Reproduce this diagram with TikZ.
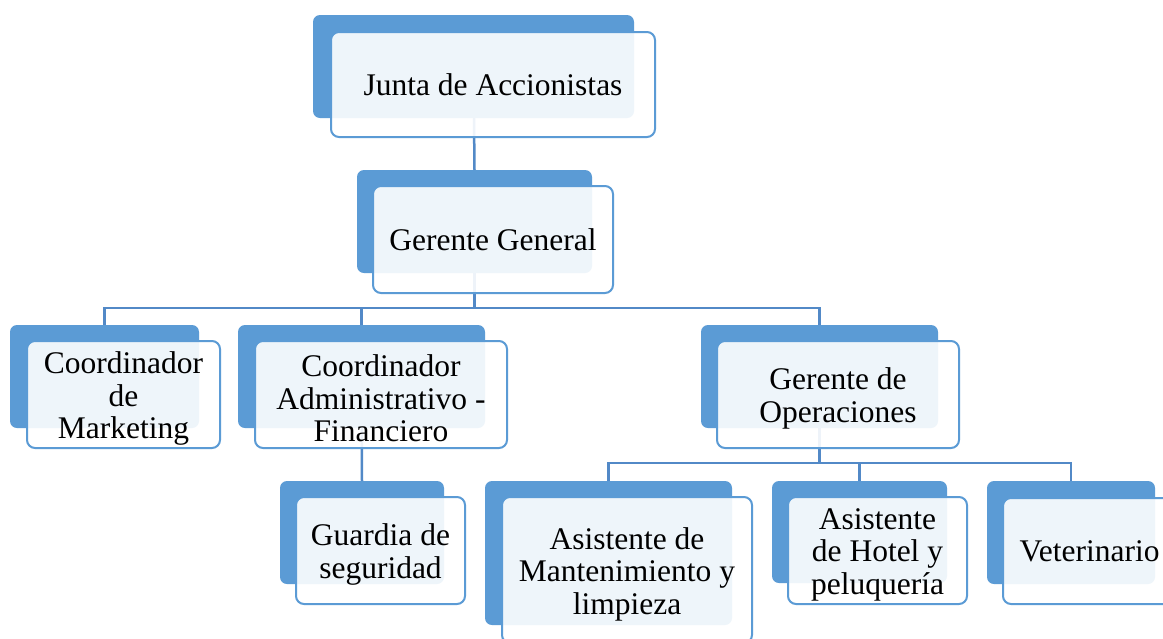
\documentclass[tikz,border=0pt]{standalone}
\usepackage{fontspec}
\setmainfont{Liberation Serif}
\definecolor{boxblue}{HTML}{5B9BD5}
\definecolor{connblue}{HTML}{5289C7}
\pgfdeclarelayer{paper}
\pgfdeclarelayer{bg}
\pgfsetlayers{paper,bg,main}
\begin{document}
\begin{tikzpicture}[x=1pt,y=-1pt,
  backbox/.style={rectangle, rounded corners=7pt, fill=boxblue, inner sep=0pt, outer sep=0pt},
  frontbox/.style={rectangle, rounded corners=8pt, draw=boxblue, line width=2pt, fill=white, fill opacity=0.9, text opacity=1, inner sep=0pt, outer sep=0pt, align=center, font=\fontsize{31.5}{32.5}\selectfont},
  txt/.style={inner sep=0pt, align=center, font=\fontsize{31.5}{32.5}\selectfont, yshift=-4pt},
  conn/.style={draw=connblue, line width=2.5pt}]
\clip (0,0) rectangle (1163,638);
\begin{pgfonlayer}{paper}
\fill[white] (0,0) rectangle (1163,638);
\end{pgfonlayer}
% Junta de Accionistas
\node[backbox, minimum width=321pt, minimum height=103pt] (junta-b) at (473.5,66.5) {};
\node[frontbox, minimum width=324pt, minimum height=105pt] (junta) at (493,84.5) {Junta de Accionistas};
% Gerente General
\node[backbox, minimum width=235pt, minimum height=103pt] (gg-b) at (474.5,221.5) {};
\node[frontbox, minimum width=240pt, minimum height=107pt] (gg) at (493,239.5) {Gerente General};
% Coordinador de Marketing
\node[backbox, minimum width=189pt, minimum height=103pt] (mkt-b) at (104.5,376.5) {};
\node[frontbox, minimum width=193pt, minimum height=107pt] (mkt) at (123.5,394.5) {};
\node[txt] (mkt-t) at (mkt.center) {Coordinador\\de\\Marketing};
% Coordinador Administrativo - Financiero
\node[backbox, minimum width=247pt, minimum height=103pt] (adm-b) at (361.5,376.5) {};
\node[frontbox, minimum width=252pt, minimum height=107pt] (adm) at (381,394.5) {};
\node[txt] (adm-t) at (adm.center) {Coordinador\\Administrativo -\\Financiero};
% Gerente de Operaciones
\node[backbox, minimum width=237pt, minimum height=103pt] (ops-b) at (819.5,376.5) {};
\node[frontbox, minimum width=242pt, minimum height=107pt] (ops) at (838,394.5) {};
\node[txt] (ops-t) at (ops.center) {Gerente de\\Operaciones};
% Guardia de seguridad
\node[backbox, minimum width=164pt, minimum height=103pt] (gua-b) at (362,532.5) {};
\node[frontbox, minimum width=169pt, minimum height=107pt] (gua) at (380.5,550.5) {};
\node[txt] (gua-t) at (gua.center) {Guardia de\\seguridad};
% Asistente de Mantenimiento y limpieza
\node[backbox, minimum width=247pt, minimum height=144pt] (man-b) at (608.5,553) {};
\node[frontbox, minimum width=250pt, minimum height=146pt] (man) at (627,570) {};
\node[txt] (man-t) at (man.center) {Asistente de\\Mantenimiento y\\limpieza};
% Asistente de Hotel y peluqueria
\node[backbox, minimum width=175pt, minimum height=102pt] (hot-b) at (859.5,532) {};
\node[frontbox, minimum width=179pt, minimum height=107pt] (hot) at (877.5,550.5) {};
\node[txt] (hot-t) at (hot.center) {Asistente\\de Hotel y\\peluquería};
% Veterinario
\node[backbox, minimum width=168pt, minimum height=103pt] (vet-b) at (1071,532.5) {};
\node[frontbox, minimum width=173pt, minimum height=106pt] (vet) at (1089.5,551) {Veterinario};
% connectors
\coordinate (bar1) at (474,308);
\coordinate (bar2) at (820,463);
\begin{pgfonlayer}{bg}
\draw[conn] (junta-b.center) -- (gg-b.north);
\draw[conn] (gg-b.center) -- (gg-b.south |- bar1);
\draw[conn] (mkt-b.north) |- (bar1) -| (ops-b.north);
\draw[conn] (adm-b.north) -- (adm-b.north |- bar1);
\draw[conn] (adm-b.center) -- (gua-b.north);
\draw[conn] (ops-b.center) -- (ops-b.south |- bar2);
\draw[conn] (man-b.north) |- (bar2) -| (vet-b.north);
\draw[conn] (hot-b.north) -- (hot-b.north |- bar2);
\end{pgfonlayer}
\end{tikzpicture}
\end{document}
